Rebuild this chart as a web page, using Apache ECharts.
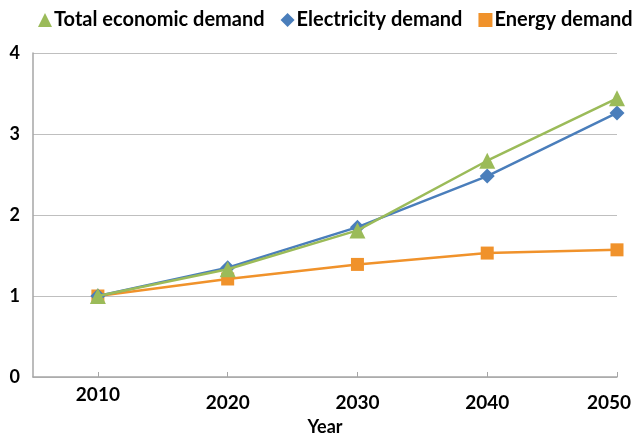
<!DOCTYPE html>
<html>
<head>
<meta charset="utf-8">
<script src="https://cdn.jsdelivr.net/npm/echarts@6/dist/echarts.min.js"></script>
<style>
  html, body { margin: 0; padding: 0; background: #fff; }
  #chart { width: 636px; height: 438px; }
</style>
</head>
<body>
<div id="chart"></div>
<script>
// Demand growth relative to 2010 (index, 2010 = 1)
const years = [2010, 2020, 2030, 2040, 2050];
const totalEconomic = [1.0, 1.33, 1.81, 2.67, 3.44];
const electricity = [1.0, 1.35, 1.85, 2.48, 3.26];
const energy = [1.0, 1.21, 1.39, 1.53, 1.57];
const yTicks = [0, 1, 2, 3, 4];

const GREEN = '#9BBB59';
const BLUE = '#4A7EBB';
const ORANGE = '#F0922B';
const FONT = 'Lato';

const pairs = vals => years.map((y, i) => [y, vals[i]]);

const chart = echarts.init(document.getElementById('chart'), null, { renderer: 'canvas' });

chart.setOption({
  animation: false,
  textStyle: { fontFamily: FONT, color: '#000' },
  legend: {
    top: 5,
    left: 33,
    width: 620,
    itemGap: 16,
    itemWidth: 14,
    itemHeight: 14,
    textStyle: { fontFamily: FONT, fontWeight: 'bold', fontSize: 20, color: '#000', padding: [0, 0, 0, -3] },
    data: [
      { name: 'Total economic demand', icon: 'triangle', itemStyle: { color: GREEN } },
      { name: 'Electricity demand', icon: 'diamond', itemStyle: { color: BLUE } },
      { name: 'Energy demand', icon: 'rect', itemStyle: { color: ORANGE } }
    ]
  },
  grid: { left: 33, right: 19, top: 53, bottom: 61, containLabel: false, outerBoundsMode: 'none' },
  xAxis: {
    type: 'value',
    min: 2005,
    max: 2050,
    name: 'Year',
    nameLocation: 'middle',
    nameGap: 41,
    nameTextStyle: { fontFamily: FONT, fontWeight: 'bold', fontSize: 18, color: '#000' },
    axisLine: { show: true, lineStyle: { color: '#A6A6A6', width: 1.5 } },
    axisTick: { show: true, inside: true, length: 5, customValues: years, lineStyle: { color: '#A6A6A6' } },
    splitLine: { show: false },
    axisLabel: {
      customValues: years,
      margin: 8,
      fontFamily: FONT,
      fontWeight: 'bold',
      fontSize: 19,
      color: '#000',
      formatter: v => v === 2010 ? '{a|' + v + '}' : (v === 2050 ? '{c|' + v + '}' : '{b|' + v + '}'),
      rich: {
        a: { fontFamily: FONT, fontWeight: 'bold', fontSize: 19, color: '#000' },
        b: { fontFamily: FONT, fontWeight: 'bold', fontSize: 19, color: '#000', padding: [8, 0, 0, 0] },
        c: { fontFamily: FONT, fontWeight: 'bold', fontSize: 19, color: '#000', padding: [8, 16, 0, 0] }
      }
    }
  },
  yAxis: {
    type: 'value',
    min: yTicks[0],
    max: yTicks[yTicks.length - 1],
    interval: 1,
    axisLine: { show: true, lineStyle: { color: '#A6A6A6', width: 1.5 } },
    axisTick: { show: false },
    axisLabel: { margin: 13, fontFamily: FONT, fontWeight: 'bold', fontSize: 18, color: '#000' },
    splitLine: { show: true, lineStyle: { color: '#BFBFBF', width: 1.2 } }
  },
  series: [
    {
      name: 'Energy demand',
      type: 'line',
      data: pairs(energy),
      symbol: 'rect',
      symbolSize: 13,
      lineStyle: { color: ORANGE, width: 2.5 },
      itemStyle: { color: ORANGE },
      z: 2
    },
    {
      name: 'Electricity demand',
      type: 'line',
      data: pairs(electricity),
      symbol: 'diamond',
      symbolSize: 15,
      lineStyle: { color: BLUE, width: 2.5 },
      itemStyle: { color: BLUE },
      z: 3
    },
    {
      name: 'Total economic demand',
      type: 'line',
      data: pairs(totalEconomic),
      symbol: 'triangle',
      symbolSize: 16,
      lineStyle: { color: GREEN, width: 2.5 },
      itemStyle: { color: GREEN },
      z: 4
    }
  ]
});
</script>
</body>
</html>
